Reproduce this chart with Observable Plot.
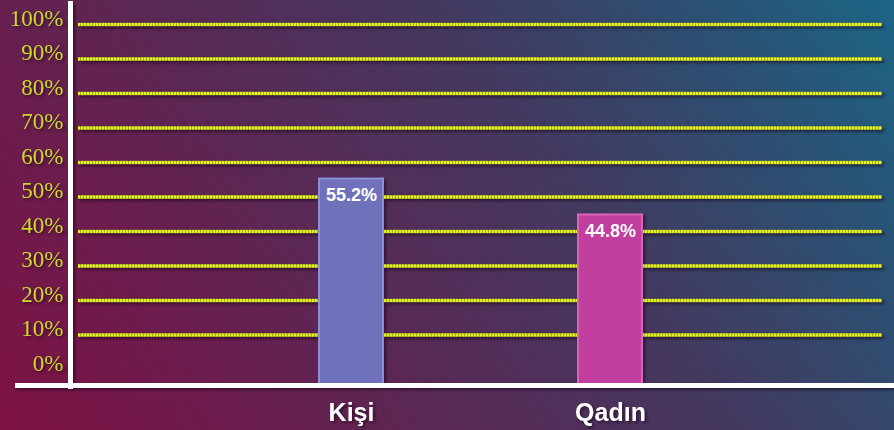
<!DOCTYPE html>
<html>
<head>
<meta charset="utf-8">
<script src="https://cdn.jsdelivr.net/npm/d3@7"></script>
<script src="https://cdn.jsdelivr.net/npm/@observablehq/plot@0.6"></script>
<style>
  html, body { margin: 0; padding: 0; }
  #chart {
    width: 894px; height: 430px;
    background: linear-gradient(55deg, #7e1244 0%, #6a1e4e 22%, #552b57 42%, #43395f 62%, #2c4f72 82%, #1c6585 100%);
  }
  #chart svg { display: block; background: transparent; filter: drop-shadow(2px 2px 1.5px rgba(20,0,20,0.55)); }
</style>
</head>
<body>
<div id="chart"></div>
<script>
const categories = ["Kişi", "Qadın"];
const values = [55.2, 44.8];
const valueLabels = ["55.2%", "44.8%"];
const barColors = ["#6f72bb", "#c33f9f"];
const barStrokes = ["#8d90d6", "#d865b8"];
const yTicks = [0, 10, 20, 30, 40, 50, 60, 70, 80, 90, 100];
const yTickLabels = ["0%", "10%", "20%", "30%", "40%", "50%", "60%", "70%", "80%", "90%", "100%"];
const gridTicks = [10, 20, 30, 40, 50, 60, 70, 80, 90, 100];

const data = categories.map((c, i) => ({cat: c, value: values[i], label: valueLabels[i], fill: barColors[i], stroke: barStrokes[i]}));
const tickData = yTicks.map((t, i) => ({t, label: yTickLabels[i]}));

const chart = Plot.plot({
  width: 894,
  height: 430,
  marginLeft: 70,
  marginRight: 3,
  marginTop: 24,
  marginBottom: 61,
  style: {background: "transparent", overflow: "visible"},
  x: {domain: categories, paddingInner: 0.753, paddingOuter: 0.961, axis: null},
  y: {domain: [0, 100], axis: null},
  marks: [
    // grid lines
    Plot.ruleY(gridTicks, {y: d => d, stroke: "#a8b414", strokeWidth: 3.5, insetLeft: 8, insetRight: 9}),
    Plot.ruleY(gridTicks, {y: d => d, stroke: "#e2ee2c", strokeWidth: 3, strokeDasharray: "2,1", insetLeft: 8, insetRight: 9}),
    // bars
    Plot.barY(data, {x: "cat", y: "value", fill: "fill", stroke: "stroke", strokeWidth: 2, insetBottom: -15}),
    // value labels
    Plot.text(data, {x: "cat", y: "value", text: "label", dy: 16, fill: "white", fontSize: 18, fontWeight: "bold", fontFamily: "Liberation Sans, Arial, sans-serif"}),
    // y tick labels
    Plot.text(tickData, {y: "t", text: "label", frameAnchor: "left", textAnchor: "end", dx: -7, dy: -6, fill: "#cbd92a", fontSize: 23, fontFamily: "Liberation Serif, Times New Roman, serif"}),
    // category labels
    Plot.text(categories, {x: d => d, text: d => d, frameAnchor: "bottom", dy: 51, fill: "white", fontSize: 25, fontWeight: "bold", fontFamily: "Liberation Sans, Arial, sans-serif"}),
    // axis lines
    Plot.frame({anchor: "left", stroke: "white", strokeWidth: 5, insetTop: -21, insetBottom: -17}),
    Plot.ruleY([0], {stroke: "white", strokeWidth: 5, dy: 16, insetLeft: -55, insetRight: -3})
  ]
});
document.getElementById("chart").appendChild(chart);
</script>
</body>
</html>
